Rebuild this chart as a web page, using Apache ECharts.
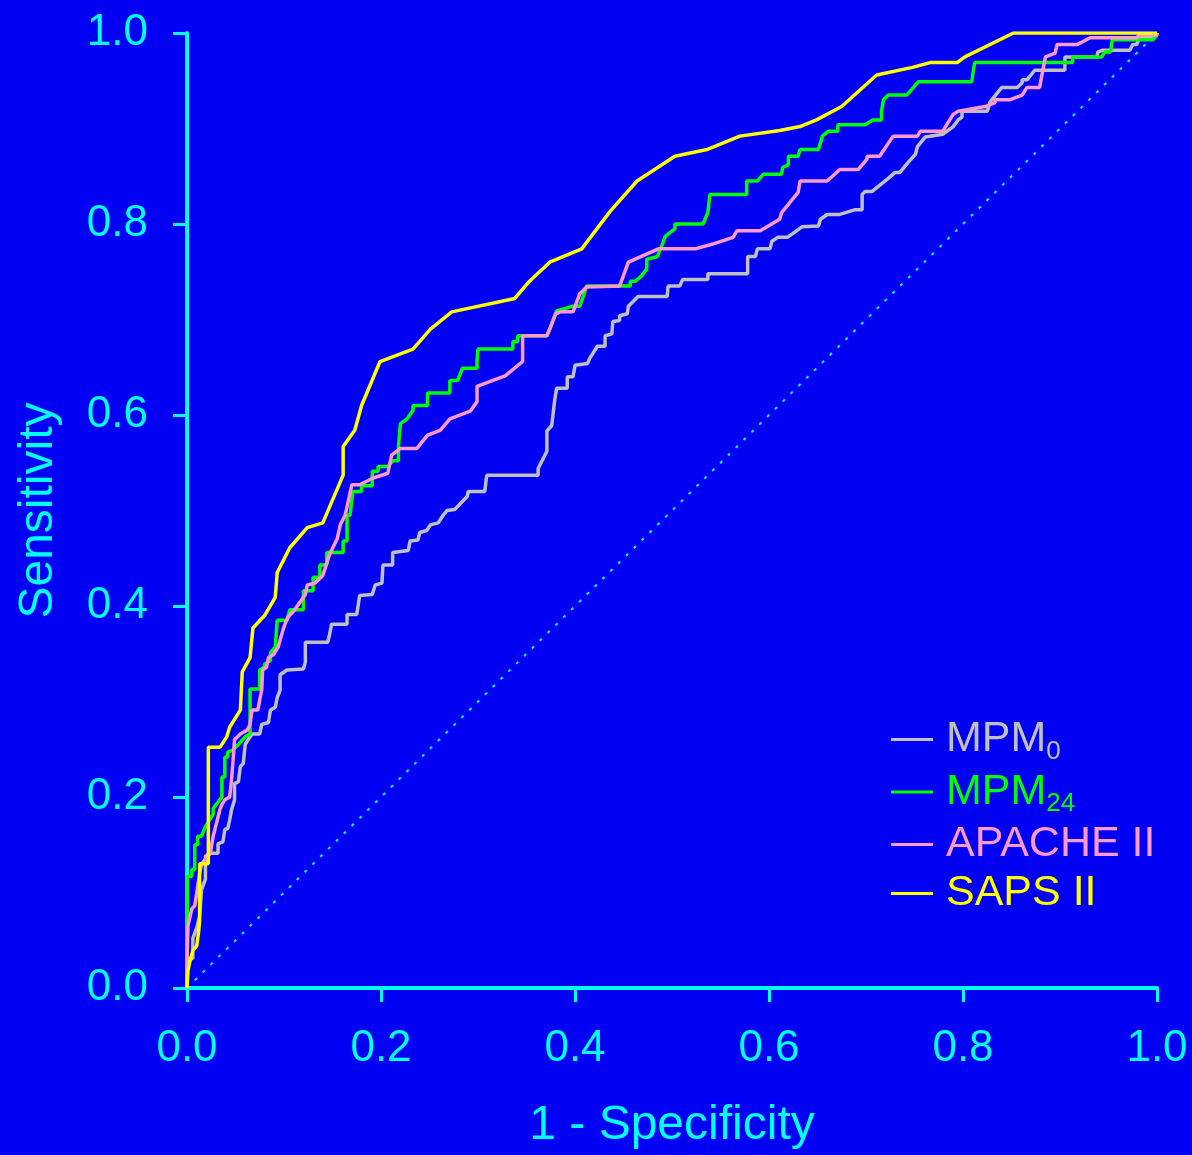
<!DOCTYPE html>
<html style="height: 100%">
<head>
<meta charset="utf-8">
<script src="https://cdn.jsdelivr.net/npm/echarts@6/dist/echarts.min.js"></script>
<title>ROC curves</title>
</head>
<body style="height: 100%; margin: 0; background: #0000f2">
<div id="container" style="width: 1192px; height: 1155px"></div>
<script type="text/javascript">

// ROC points as [1 - specificity, sensitivity]
let mpm0 = [
  [0,0],[0,0.010],[0.001,0.031],[0.006,0.031],[0.006,0.052],[0.010,0.063],[0.013,0.075],[0.015,0.103],
  [0.019,0.114],[0.019,0.138],[0.024,0.141],[0.032,0.141],[0.032,0.151],[0.037,0.153],[0.039,0.166],
  [0.042,0.167],[0.044,0.176],[0.046,0.187],[0.049,0.197],[0.049,0.214],[0.053,0.216],[0.055,0.232],
  [0.058,0.235],[0.060,0.255],[0.063,0.260],[0.067,0.266],[0.075,0.266],[0.077,0.276],[0.084,0.278],
  [0.086,0.291],[0.091,0.294],[0.093,0.304],[0.096,0.312],[0.096,0.328],[0.103,0.333],[0.120,0.334],
  [0.122,0.341],[0.122,0.362],[0.145,0.362],[0.147,0.370],[0.149,0.381],[0.165,0.381],[0.165,0.391],
  [0.175,0.391],[0.178,0.411],[0.191,0.412],[0.194,0.422],[0.201,0.424],[0.202,0.443],[0.212,0.443],
  [0.212,0.456],[0.228,0.458],[0.230,0.468],[0.238,0.469],[0.240,0.477],[0.247,0.479],[0.251,0.485],
  [0.259,0.487],[0.264,0.495],[0.268,0.500],[0.276,0.501],[0.289,0.515],[0.290,0.520],[0.307,0.520],
  [0.309,0.537],[0.362,0.537],[0.362,0.544],[0.371,0.562],[0.371,0.583],[0.376,0.589],[0.379,0.615],
  [0.381,0.628],[0.392,0.628],[0.392,0.640],[0.398,0.640],[0.400,0.652],[0.413,0.654],[0.415,0.659],
  [0.423,0.672],[0.431,0.672],[0.431,0.683],[0.438,0.685],[0.439,0.698],[0.446,0.699],[0.446,0.704],
  [0.454,0.706],[0.455,0.714],[0.465,0.724],[0.495,0.724],[0.496,0.735],[0.508,0.735],[0.511,0.742],
  [0.537,0.742],[0.537,0.748],[0.578,0.748],[0.578,0.766],[0.586,0.766],[0.588,0.774],[0.601,0.774],
  [0.603,0.782],[0.609,0.786],[0.619,0.786],[0.634,0.797],[0.651,0.798],[0.653,0.805],[0.660,0.810],
  [0.673,0.810],[0.689,0.815],[0.696,0.815],[0.696,0.831],[0.699,0.834],[0.706,0.834],[0.722,0.847],
  [0.730,0.854],[0.735,0.854],[0.743,0.864],[0.751,0.873],[0.753,0.881],[0.761,0.891],[0.779,0.894],
  [0.790,0.902],[0.795,0.909],[0.799,0.912],[0.799,0.918],[0.825,0.918],[0.828,0.928],[0.840,0.943],
  [0.856,0.943],[0.861,0.948],[0.861,0.951],[0.866,0.951],[0.874,0.961],[0.905,0.961],[0.905,0.975],
  [0.938,0.975],[0.939,0.980],[0.944,0.982],[0.972,0.982],[0.975,0.988],[0.979,0.988],[0.982,0.995],
  [0.996,0.996],[1,1]
];

let mpm24 = [
  [0,0],[0,0.117],[0.005,0.117],[0.005,0.124],[0.008,0.124],[0.008,0.150],[0.011,0.150],[0.011,0.159],
  [0.015,0.159],[0.019,0.169],[0.027,0.182],[0.027,0.188],[0.036,0.200],[0.036,0.221],[0.039,0.221],
  [0.039,0.242],[0.042,0.242],[0.042,0.247],[0.047,0.249],[0.053,0.255],[0.060,0.263],[0.065,0.266],
  [0.065,0.313],[0.075,0.313],[0.075,0.333],[0.080,0.336],[0.080,0.339],[0.086,0.343],[0.086,0.351],
  [0.091,0.357],[0.093,0.385],[0.103,0.385],[0.106,0.396],[0.120,0.396],[0.120,0.416],[0.130,0.416],
  [0.130,0.430],[0.137,0.430],[0.137,0.443],[0.144,0.443],[0.144,0.456],[0.161,0.456],[0.161,0.468],
  [0.165,0.468],[0.165,0.495],[0.168,0.495],[0.171,0.520],[0.180,0.520],[0.180,0.526],[0.191,0.526],
  [0.191,0.541],[0.197,0.541],[0.197,0.546],[0.207,0.546],[0.212,0.552],[0.218,0.552],[0.218,0.567],
  [0.220,0.567],[0.220,0.591],[0.227,0.596],[0.233,0.605],[0.233,0.610],[0.248,0.610],[0.248,0.623],
  [0.271,0.623],[0.271,0.636],[0.279,0.636],[0.284,0.649],[0.299,0.649],[0.299,0.657],[0.300,0.669],
  [0.336,0.669],[0.336,0.677],[0.341,0.677],[0.341,0.683],[0.371,0.683],[0.374,0.690],[0.381,0.709],
  [0.398,0.714],[0.405,0.714],[0.412,0.735],[0.457,0.735],[0.457,0.740],[0.462,0.740],[0.469,0.746],
  [0.474,0.753],[0.474,0.763],[0.485,0.766],[0.488,0.774],[0.491,0.781],[0.493,0.787],[0.498,0.791],
  [0.503,0.795],[0.503,0.800],[0.532,0.800],[0.537,0.812],[0.539,0.831],[0.577,0.831],[0.577,0.845],
  [0.588,0.845],[0.594,0.852],[0.613,0.852],[0.614,0.859],[0.620,0.862],[0.620,0.871],[0.630,0.871],
  [0.632,0.878],[0.651,0.878],[0.655,0.892],[0.661,0.897],[0.671,0.897],[0.671,0.904],[0.699,0.904],
  [0.707,0.909],[0.716,0.909],[0.716,0.918],[0.718,0.930],[0.723,0.935],[0.742,0.935],[0.754,0.949],
  [0.809,0.949],[0.810,0.956],[0.812,0.969],[0.913,0.969],[0.913,0.975],[0.943,0.975],[0.946,0.980],
  [0.952,0.980],[0.954,0.993],[0.996,0.993],[1,0.998],[1,1]
];

let apache2 = [
  [0,0],[0,0.026],[0.001,0.065],[0.005,0.083],[0.008,0.086],[0.011,0.106],[0.013,0.120],[0.015,0.130],
  [0.024,0.141],[0.027,0.159],[0.034,0.187],[0.036,0.192],[0.039,0.197],[0.044,0.200],[0.046,0.219],
  [0.047,0.232],[0.049,0.260],[0.055,0.266],[0.062,0.270],[0.065,0.276],[0.067,0.291],[0.073,0.291],
  [0.077,0.312],[0.078,0.333],[0.082,0.336],[0.084,0.346],[0.089,0.349],[0.094,0.357],[0.099,0.375],
  [0.101,0.381],[0.104,0.388],[0.111,0.396],[0.122,0.412],[0.124,0.422],[0.132,0.424],[0.140,0.432],
  [0.147,0.454],[0.155,0.471],[0.158,0.485],[0.163,0.495],[0.170,0.527],[0.178,0.527],[0.192,0.534],
  [0.207,0.539],[0.211,0.558],[0.220,0.565],[0.237,0.565],[0.248,0.579],[0.261,0.584],[0.271,0.596],
  [0.292,0.604],[0.299,0.614],[0.299,0.630],[0.312,0.635],[0.328,0.641],[0.346,0.656],[0.346,0.683],
  [0.371,0.683],[0.374,0.690],[0.380,0.706],[0.385,0.708],[0.398,0.708],[0.405,0.727],[0.412,0.734],
  [0.446,0.735],[0.455,0.760],[0.486,0.774],[0.524,0.774],[0.542,0.779],[0.563,0.786],[0.567,0.793],
  [0.591,0.793],[0.611,0.805],[0.613,0.812],[0.630,0.833],[0.632,0.845],[0.660,0.845],[0.673,0.857],
  [0.692,0.857],[0.701,0.868],[0.701,0.871],[0.714,0.871],[0.728,0.892],[0.753,0.892],[0.756,0.897],
  [0.779,0.897],[0.790,0.915],[0.795,0.918],[0.823,0.923],[0.833,0.927],[0.833,0.930],[0.848,0.930],
  [0.861,0.935],[0.866,0.943],[0.879,0.943],[0.881,0.954],[0.885,0.975],[0.895,0.979],[0.897,0.988],
  [0.918,0.988],[0.931,0.995],[0.979,0.995],[0.982,0.998],[1,0.998],[1,1]
];

let saps2 = [
  [0,0],[0.001,0.018],[0.003,0.028],[0.006,0.039],[0.010,0.044],[0.012,0.059],[0.013,0.070],[0.013,0.130],
  [0.022,0.130],[0.022,0.252],[0.034,0.252],[0.041,0.263],[0.044,0.273],[0.055,0.291],[0.057,0.331],
  [0.065,0.346],[0.068,0.377],[0.080,0.390],[0.091,0.409],[0.093,0.435],[0.106,0.461],[0.124,0.482],
  [0.140,0.487],[0.161,0.537],[0.161,0.567],[0.173,0.584],[0.180,0.610],[0.199,0.656],[0.233,0.669],
  [0.251,0.690],[0.273,0.708],[0.338,0.722],[0.352,0.739],[0.374,0.760],[0.407,0.774],[0.436,0.813],
  [0.464,0.845],[0.503,0.871],[0.536,0.878],[0.570,0.892],[0.611,0.898],[0.632,0.902],[0.649,0.909],
  [0.675,0.923],[0.711,0.956],[0.748,0.964],[0.766,0.969],[0.794,0.969],[0.802,0.975],[0.852,1],[1,1]
];

let chance = [[0,0],[1,1]];

let names = ['MPM0', 'MPM24', 'APACHE II', 'SAPS II'];
let colors = ['#c0c0c0', '#00ff00', '#ff99cc', '#ffff00'];
let ticks = [0, 0.2, 0.4, 0.6, 0.8, 1.0];

const cyan = '#00ffff';
const font = 'Liberation Sans, Arial, sans-serif';

function axis(name, gap) {
    return {
        type: 'value', min: ticks[0], max: ticks[ticks.length - 1], interval: 0.2,
        name: name, nameLocation: 'middle', nameGap: gap,
        nameTextStyle: {color: cyan, fontSize: 48, fontFamily: font},
        axisLine: {show: true, lineStyle: {color: cyan, width: 4}},
        axisTick: {show: true, length: 14, lineStyle: {color: cyan, width: 3}},
        axisLabel: {color: cyan, fontSize: 44, fontFamily: font, margin: 39,
                    formatter: v => v.toFixed(1)},
        splitLine: {show: false}
    };
}

function rich(c, key) {
    let r = {};
    r[key] = {color: c, fontSize: 43, lineHeight: 50, fontFamily: font};
    r[key + 's'] = {color: c, fontSize: 26, lineHeight: 18, verticalAlign: 'bottom', fontFamily: font};
    return r;
}
let keys = ['a', 'b', 'c', 'd'];
let richAll = Object.assign({}, ...keys.map((k, i) => rich(colors[i], k)));

let chart = echarts.init(document.getElementById('container'));
chart.setOption({
    backgroundColor: '#0000f2',
    animation: false,
    grid: {left: 187, right: 35, top: 33, bottom: 163},
    xAxis: axis('1 - Specificity', 114),
    yAxis: axis('Sensitivity', 124),
    legend: {
        orient: 'vertical', left: 891, top: 718, padding: 0,
        itemWidth: 42, itemHeight: 3, itemGap: 6, icon: 'rect',
        selectedMode: false,
        data: names,
        textStyle: {padding: [0, 0, 0, 8], rich: richAll},
        formatter: function (n) {
            if (n === 'MPM0') return '{a|MPM}{as|0}';
            if (n === 'MPM24') return '{b|MPM}{bs|24}';
            if (n === 'APACHE II') return '{c|APACHE II}';
            return '{d|SAPS II}';
        }
    },
    series: [
        {type: 'line', data: chance, symbol: 'none', silent: true,
         lineStyle: {color: cyan, width: 2, type: [3, 8]}},
        ...[mpm0, mpm24, apache2, saps2].map((d, i) => ({
            name: names[i], type: 'line', data: d, symbol: 'none',
            color: colors[i], lineStyle: {color: colors[i], width: 3.5}
        }))
    ]
});
</script>
</body>
</html>
